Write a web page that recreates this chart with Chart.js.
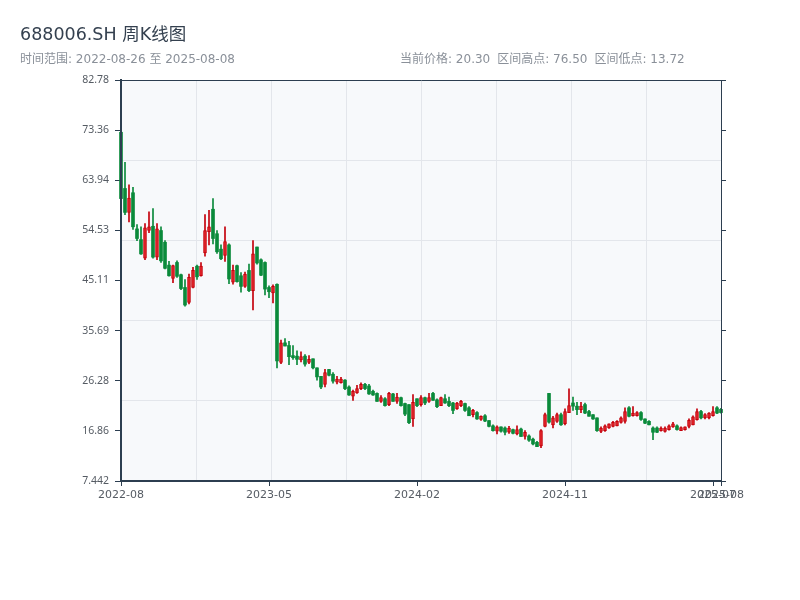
<!DOCTYPE html>
<html>
<head>
<meta charset="utf-8">
<script src="https://cdn.jsdelivr.net/npm/chart.js@4.4.0/dist/chart.umd.min.js"></script>
<style>
  html, body { margin: 0; padding: 0; background: #fff; }
  #wrap { position: relative; width: 800px; height: 600px; font-family: "DejaVu Sans", "Noto Sans CJK SC", sans-serif; }
  #chart { position: absolute; left: 0; top: 0; }
  #title { position: absolute; left: 20px; top: 22px; font-size: 17.5px; line-height: 24px; color: #34404f; }
  .sub { position: absolute; top: 51px; font-size: 12px; line-height: 16px; color: #8a9099; white-space: pre; }
  .gap { display: inline-block; width: 7px; }
</style>
</head>
<body>
<div id="wrap">
  <canvas id="chart" width="800" height="600"></canvas>
  <div id="title">688006.SH 周K线图</div>
  <div class="sub" style="left:20px">时间范围: 2022-08-26 至 2025-08-08</div>
  <div class="sub" style="left:400px">当前价格: 20.30<span class="gap"></span>区间高点: 76.50<span class="gap"></span>区间低点: 13.72</div>
</div>
<script>
// weekly bars, one per trading week
const DATES = [
  "2022-08-26", "2022-09-02", "2022-09-09", "2022-09-16", "2022-09-23", "2022-09-30", "2022-10-14", "2022-10-21",
  "2022-10-28", "2022-11-04", "2022-11-11", "2022-11-18", "2022-11-25", "2022-12-02", "2022-12-09", "2022-12-16",
  "2022-12-23", "2022-12-30", "2023-01-06", "2023-01-13", "2023-01-20", "2023-02-03", "2023-02-10", "2023-02-17",
  "2023-02-24", "2023-03-03", "2023-03-10", "2023-03-17", "2023-03-24", "2023-03-31", "2023-04-07", "2023-04-14",
  "2023-04-21", "2023-04-28", "2023-05-05", "2023-05-12", "2023-05-19", "2023-05-26", "2023-06-02", "2023-06-09",
  "2023-06-16", "2023-06-21", "2023-06-30", "2023-07-07", "2023-07-14", "2023-07-21", "2023-07-28", "2023-08-04",
  "2023-08-11", "2023-08-18", "2023-08-25", "2023-09-01", "2023-09-08", "2023-09-15", "2023-09-22", "2023-09-28",
  "2023-10-13", "2023-10-20", "2023-10-27", "2023-11-03", "2023-11-10", "2023-11-17", "2023-11-24", "2023-12-01",
  "2023-12-08", "2023-12-15", "2023-12-22", "2023-12-29", "2024-01-05", "2024-01-12", "2024-01-19", "2024-01-26",
  "2024-02-02", "2024-02-08", "2024-02-23", "2024-03-01", "2024-03-08", "2024-03-15", "2024-03-22", "2024-03-29",
  "2024-04-03", "2024-04-12", "2024-04-19", "2024-04-26", "2024-04-30", "2024-05-10", "2024-05-17", "2024-05-24",
  "2024-05-31", "2024-06-07", "2024-06-14", "2024-06-21", "2024-06-28", "2024-07-05", "2024-07-12", "2024-07-19",
  "2024-07-26", "2024-08-02", "2024-08-09", "2024-08-16", "2024-08-23", "2024-08-30", "2024-09-06", "2024-09-13",
  "2024-09-20", "2024-09-27", "2024-09-30", "2024-10-11", "2024-10-18", "2024-10-25", "2024-11-01", "2024-11-08",
  "2024-11-15", "2024-11-22", "2024-11-29", "2024-12-06", "2024-12-13", "2024-12-20", "2024-12-27", "2025-01-03",
  "2025-01-10", "2025-01-17", "2025-01-24", "2025-01-27", "2025-02-07", "2025-02-14", "2025-02-21", "2025-02-28",
  "2025-03-07", "2025-03-14", "2025-03-21", "2025-03-28", "2025-04-03", "2025-04-11", "2025-04-18", "2025-04-25",
  "2025-04-30", "2025-05-09", "2025-05-16", "2025-05-23", "2025-05-30", "2025-06-06", "2025-06-13", "2025-06-20",
  "2025-06-27", "2025-07-04", "2025-07-11", "2025-07-18", "2025-07-25", "2025-08-01", "2025-08-08"
];

const OPEN = [
  72.96, 62.4, 57.9, 61.6, 54.8, 52.8, 49.3, 54.5, 55.3, 49.5, 54.5, 52.3, 48.0, 45.5, 48.5, 46.2,
  43.8, 41.0, 43.8, 47.8, 46.0, 50.3, 54.3, 58.5, 53.9, 51.0, 49.8, 51.8, 44.8, 47.9, 46.0, 44.0,
  47.0, 43.2, 51.4, 49.0, 48.5, 43.8, 42.8, 44.4, 29.7, 33.4, 32.9, 31.0, 30.9, 30.2, 30.9, 29.7,
  30.4, 28.7, 27.1, 25.6, 28.4, 27.5, 26.0, 25.9, 26.4, 25.1, 23.4, 24.0, 24.8, 25.6, 25.3, 24.3,
  23.9, 22.4, 22.9, 21.8, 23.8, 22.4, 23.1, 22.0, 21.8, 19.1, 22.9, 21.8, 23.1, 22.4, 23.9, 22.7,
  21.6, 22.9, 22.4, 22.1, 21.0, 21.6, 22.0, 21.2, 19.9, 20.3, 19.0, 19.7, 18.8, 17.8, 16.8, 17.6,
  17.4, 16.6, 17.1, 16.3, 17.2, 15.8, 15.9, 15.3, 14.7, 14.05, 17.7, 23.9, 18.0, 18.65, 19.9, 18.2,
  20.3, 22.1, 21.5, 20.85, 21.8, 20.5, 19.9, 19.3, 16.75, 16.9, 17.4, 17.7, 17.8, 18.45, 18.65, 21.2,
  19.7, 19.7, 20.3, 19.1, 18.65, 17.4, 17.4, 16.9, 16.75, 17.1, 17.6, 17.8, 16.9, 17.1, 17.7, 18.0,
  18.95, 20.5, 19.3, 19.3, 19.7, 21.2, 20.9
];
const HIGH = [
  76.5, 67.3, 63.1, 62.6, 55.6, 55.2, 55.8, 58.0, 58.6, 55.8, 55.2, 52.6, 48.7, 48.0, 48.8, 46.3,
  45.3, 46.3, 47.6, 48.0, 48.5, 57.5, 58.3, 60.5, 54.5, 51.8, 55.2, 52.0, 48.0, 48.0, 46.6, 46.7,
  48.2, 52.6, 51.4, 49.2, 48.6, 44.1, 44.3, 44.5, 33.9, 34.2, 33.7, 32.9, 31.9, 31.7, 31.2, 31.0,
  30.4, 28.7, 27.1, 28.4, 28.4, 27.8, 27.1, 26.9, 26.5, 25.3, 24.5, 25.4, 25.9, 25.8, 25.6, 24.5,
  24.0, 23.5, 23.1, 24.1, 23.9, 23.9, 23.2, 22.1, 21.8, 23.7, 22.9, 23.5, 23.2, 23.9, 24.1, 22.9,
  23.2, 23.7, 23.2, 22.2, 22.2, 22.6, 22.1, 21.4, 20.9, 20.5, 19.7, 19.9, 18.8, 18.0, 17.8, 17.6,
  17.6, 17.7, 17.2, 17.8, 17.4, 16.9, 16.1, 15.5, 14.9, 17.1, 20.2, 23.9, 19.6, 20.2, 20.2, 21.0,
  24.75, 23.2, 22.2, 22.2, 22.1, 20.7, 19.9, 19.3, 17.6, 18.0, 18.2, 18.65, 18.8, 19.5, 21.2, 21.4,
  21.4, 20.5, 20.5, 19.1, 18.8, 17.6, 17.6, 17.6, 17.6, 18.0, 18.45, 18.0, 17.6, 17.6, 19.1, 19.7,
  21.0, 20.7, 20.1, 20.3, 21.4, 21.4, 21.1
];
const LOW = [
  59.8, 57.5, 56.1, 54.7, 52.6, 50.0, 49.0, 54.1, 49.3, 49.0, 48.5, 47.3, 45.9, 44.7, 45.7, 43.4,
  40.3, 40.7, 43.7, 45.3, 45.9, 49.7, 51.8, 52.0, 50.2, 49.0, 48.7, 44.5, 44.4, 44.8, 42.9, 43.8,
  43.0, 39.6, 48.2, 46.0, 42.4, 41.9, 40.9, 28.7, 29.5, 32.8, 29.3, 30.3, 29.3, 29.8, 29.0, 29.5,
  28.5, 26.4, 24.8, 25.1, 27.2, 25.8, 25.7, 25.8, 24.6, 23.5, 22.6, 23.9, 24.6, 24.6, 23.7, 23.5,
  22.4, 22.2, 21.5, 21.6, 22.4, 22.0, 21.5, 19.7, 18.2, 17.7, 21.4, 21.5, 21.8, 22.2, 22.6, 21.2,
  21.6, 22.0, 21.4, 20.1, 20.9, 21.4, 20.5, 19.7, 19.5, 19.0, 18.8, 18.6, 17.6, 16.8, 16.3, 16.6,
  16.1, 16.4, 16.3, 16.1, 15.8, 15.3, 14.9, 14.2, 13.9, 13.72, 17.6, 18.3, 17.4, 18.45, 17.9, 18.0,
  20.3, 20.7, 19.9, 20.3, 20.1, 19.6, 19.0, 16.75, 16.5, 16.75, 17.3, 17.6, 17.8, 18.3, 18.3, 19.5,
  19.6, 19.6, 18.8, 18.2, 18.0, 15.2, 16.5, 16.8, 16.6, 17.0, 17.5, 17.0, 16.9, 17.0, 17.4, 18.0,
  18.85, 19.1, 19.1, 19.1, 19.6, 20.1, 20.2
];
const CLOSE = [
  60.5, 57.9, 60.6, 55.2, 53.0, 50.1, 55.0, 55.2, 49.5, 54.8, 48.8, 47.4, 46.0, 47.9, 45.9, 43.6,
  40.5, 45.7, 47.0, 45.8, 47.8, 54.5, 55.2, 53.0, 50.5, 49.2, 52.4, 45.4, 47.0, 44.9, 44.0, 46.3,
  43.2, 50.1, 48.4, 46.1, 43.5, 43.0, 44.0, 30.0, 33.4, 32.8, 30.8, 30.6, 30.3, 30.8, 29.4, 30.3,
  28.7, 27.0, 25.1, 27.8, 27.3, 26.2, 26.6, 26.6, 24.8, 23.6, 24.3, 24.8, 25.6, 24.8, 23.8, 23.6,
  22.4, 23.1, 21.6, 23.9, 22.4, 23.2, 21.6, 20.0, 18.4, 22.2, 21.6, 23.1, 22.1, 23.1, 22.6, 21.4,
  23.1, 22.1, 21.6, 20.7, 22.1, 22.4, 20.7, 19.7, 20.7, 19.1, 19.6, 18.7, 17.7, 16.9, 17.6, 16.8,
  16.6, 17.4, 16.4, 17.1, 15.8, 16.6, 15.1, 14.4, 13.9, 16.9, 19.9, 18.5, 19.3, 19.9, 18.0, 20.5,
  21.6, 21.5, 20.85, 21.5, 20.2, 19.6, 19.1, 16.9, 17.4, 17.8, 18.2, 18.45, 18.65, 19.3, 20.5, 19.6,
  20.2, 20.3, 19.0, 18.3, 18.0, 16.6, 16.6, 17.4, 17.4, 17.8, 18.2, 17.1, 17.5, 17.6, 18.85, 19.5,
  20.5, 19.3, 19.9, 20.2, 20.5, 20.2, 20.3
];

const Y_MIN = 7.442;
const Y_MAX = 82.778;
const Y_TICKS = [7.442, 16.859, 26.276, 35.693, 45.110, 54.527, 63.944, 73.361, 82.778];
const X_LABEL_AT = [0, 37, 74, 111, 148, 150];

const UP_LINE = "#c4000a";
const UP_FILL = "#e0242a";
const DOWN = "#0a8a3a";
const AXIS = "#2c3e50";
const GRID = "#e3e6eb";

const idx = DATES.map((d, i) => i);
const isUp = idx.map((i) => CLOSE[i] >= OPEN[i]);
const last = DATES.length - 1;

const plotBg = {
  id: "plotBg",
  beforeDraw(chart) {
    const { ctx, chartArea: a } = chart;
    ctx.save();
    ctx.fillStyle = "#f7f9fb";
    ctx.fillRect(a.left, a.top, a.right - a.left, a.bottom - a.top);
    ctx.restore();
  },
};

const gridAxis = (position, min, max, parts) => ({
  type: "linear",
  position,
  min,
  max,
  offset: false,
  afterBuildTicks: (s) => {
    s.ticks = [...Array(parts + 1).keys()].map((k) => ({ value: min + ((max - min) * k) / parts }));
  },
  afterFit: (s) => {
    if (s.isHorizontal()) s.height = 0;
    else s.width = 0;
  },
  ticks: { display: false },
  grid: { color: GRID, lineWidth: 1, drawTicks: false, offset: false },
  border: { display: false },
});

new Chart(document.getElementById("chart"), {
  type: "bar",
  data: {
    datasets: [
      {
        label: "wick",
        data: idx.map((i) => ({ x: i, y: [LOW[i], HIGH[i]] })),
        backgroundColor: idx.map((i) => (isUp[i] ? UP_LINE : DOWN)),
        barThickness: 1,
        grouped: false,
        order: 2,
        clip: false,
      },
      {
        label: "body",
        data: idx.map((i) => ({ x: i, y: [OPEN[i], CLOSE[i]] })),
        backgroundColor: idx.map((i) => (isUp[i] ? UP_FILL : DOWN)),
        borderColor: idx.map((i) => (isUp[i] ? UP_LINE : DOWN)),
        borderWidth: idx.map((i) => (isUp[i] ? 1 : 0)),
        borderSkipped: false,
        barThickness: 3,
        minBarLength: 1,
        grouped: false,
        order: 1,
        clip: false,
      },
    ],
  },
  options: {
    responsive: false,
    animation: false,
    layout: { padding: { top: 80, left: 0, right: 0, bottom: 0 } },
    plugins: { legend: { display: false }, tooltip: { enabled: false }, title: { display: false } },
    scales: {
      x: {
        type: "linear",
        position: "bottom",
        min: 0,
        max: last,
        offset: false,
        afterBuildTicks: (s) => {
          s.ticks = X_LABEL_AT.map((v) => ({ value: v }));
        },
        afterFit: (s) => {
          s.height = 119;
        },
        ticks: {
          autoSkip: false,
          maxRotation: 0,
          padding: 3,
          color: "#555b63",
          font: { family: "'DejaVu Sans', sans-serif", size: 11 },
          callback: (v) => DATES[v].slice(0, 7),
        },
        grid: { drawOnChartArea: false, tickLength: 5, color: AXIS, offset: false },
        border: { color: AXIS, width: 2, z: 1 },
      },
      xg: gridAxis("bottom", 0, last, 8),
      xt: {
        type: "linear",
        position: "top",
        min: 0,
        max: last,
        offset: false,
        ticks: { display: false },
        grid: { display: false, drawTicks: false },
        border: { color: AXIS, width: 1, z: 1 },
      },
      y: {
        type: "linear",
        position: "left",
        min: Y_MIN,
        max: Y_MAX,
        afterBuildTicks: (s) => {
          s.ticks = Y_TICKS.map((v) => ({ value: v }));
        },
        afterFit: (s) => {
          s.width = 121;
        },
        ticks: {
          padding: 6,
          color: "#555b63",
          font: { family: "'Noto Sans', sans-serif", size: 10.5 },
          callback: (v) => v.toPrecision(4),
        },
        grid: { drawOnChartArea: false, tickLength: 6, color: AXIS },
        border: { color: AXIS, width: 2, z: 1 },
      },
      yg: gridAxis("left", Y_MIN, Y_MAX, 5),
      y2: {
        type: "linear",
        position: "right",
        min: Y_MIN,
        max: Y_MAX,
        afterBuildTicks: (s) => {
          s.ticks = Y_TICKS.map((v) => ({ value: v }));
        },
        afterFit: (s) => {
          s.width = 79;
        },
        ticks: { display: false },
        grid: { drawOnChartArea: false, tickLength: 5, color: AXIS },
        border: { color: AXIS, width: 1, z: 1 },
      },
    },
  },
  plugins: [plotBg],
});
</script>
</body>
</html>
